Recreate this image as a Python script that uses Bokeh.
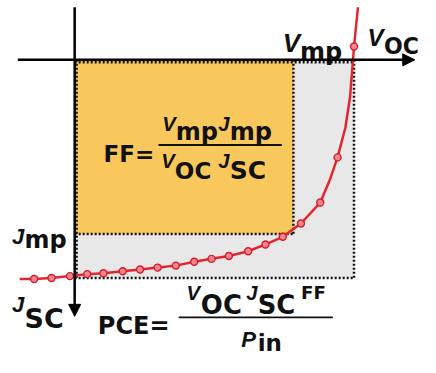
from bokeh.plotting import figure
from bokeh.models import Range1d, Arrow, NormalHead
from bokeh.core.properties import value
from bokeh.embed import file_html
from bokeh.resources import INLINE

# ---- data (normalised J-V characteristic) ----
VOC = 1.0      # open-circuit voltage
JSC = 1.0      # short-circuit current density
VMP = 0.783    # voltage at maximum power point
JMP = 0.798    # current density at maximum power point

curve_v = [-0.197, -0.145, -0.083, -0.017, 0.045, 0.103, 0.172, 0.234, 0.297, 0.362,
           0.428, 0.490, 0.552, 0.621, 0.683, 0.745, 0.810, 0.879, 0.914, 0.941,
           0.969, 0.986, 1.000, 1.014]
curve_j = [-1.004, -1.004, -1.000, -0.991, -0.982, -0.978, -0.969, -0.961, -0.952, -0.943,
           -0.925, -0.912, -0.899, -0.877, -0.846, -0.811, -0.750, -0.654, -0.548, -0.447,
           -0.311, -0.167, 0.061, 0.241]

marker_v = [-0.145, -0.083, -0.017, 0.045, 0.103, 0.172, 0.234, 0.297, 0.362, 0.428,
            0.490, 0.552, 0.621, 0.683, 0.745, 0.810, 0.879, 0.941, 1.000]
marker_j = [-1.004, -1.000, -0.991, -0.982, -0.978, -0.969, -0.961, -0.952, -0.943, -0.925,
            -0.912, -0.899, -0.877, -0.846, -0.811, -0.750, -0.654, -0.447, 0.061]

# ---- layout helpers: reference-image pixel -> data units ----
REF_W, REF_H = 436, 373
X0, Y0, SX, SY = 77, 62, 290, 228
def X(px):
    return (px - X0) / SX
def Y(py):
    return (Y0 - py) / SY

W, H = 420, 357
S = 0.96  # reference-to-figure pixel scale (for font sizes)

p = figure(width=W, height=H,
           x_range=Range1d(X(0), X(REF_W)), y_range=Range1d(Y(REF_H), Y(0)),
           x_axis_type=None, y_axis_type=None,
           output_backend="svg", toolbar_location=None, min_border=0)
p.outline_line_color = None
p.background_fill_color = "white"
p.border_fill_color = "white"

INK = "#111111"
RED = "#e2252f"

# filled areas
p.quad(left=0, right=VOC, top=0, bottom=-JSC, fill_color="#e8e8e8", line_color=None)
p.quad(left=0, right=VMP, top=0, bottom=-JMP, fill_color="#f9c85c", line_color=None)

# dotted borders
top_j = Y(64.5)
left_v = X(79)
p.multi_line(
    xs=[[VOC, VOC], [0, VOC], [VMP, VMP], [0, VMP], [0, VOC], [left_v, left_v]],
    ys=[[0, -JSC], [-JSC, -JSC], [0, -JMP], [-JMP, -JMP], [top_j, top_j], [0, -JSC]],
    line_color=INK, line_width=2.5, line_dash="2 2")

# axes with arrows
p.add_layout(Arrow(end=NormalHead(size=12, fill_color="black", line_color="black"),
                   x_start=X(18), y_start=0, x_end=X(430), y_end=0,
                   line_width=2.5, line_color="black"))
p.add_layout(Arrow(end=NormalHead(size=12, fill_color="black", line_color="black"),
                   x_start=0, y_start=Y(7), x_end=0, y_end=Y(330),
                   line_width=2.5, line_color="black"))

# J-V curve
p.line(curve_v, curve_j, line_color=RED, line_width=2.5)
p.scatter(marker_v, marker_j, size=7, fill_color="#f2858f", line_color="#d41d28", line_width=1.4)

# fraction bars
p.multi_line(xs=[[X(164), X(292)], [X(185), X(345)]], ys=[[Y(151), Y(151)], [Y(331), Y(331)]],
             line_color=INK, line_width=1.8)

# labels: (text, left px, baseline px, size px, italic) -- reference-image pixels
# italic main symbols use an Arial-like face, upright subscripts a wider bold face
labels = [
    ("V", 293, 44, 27, True), ("mp", 311, 54, 25, False),
    ("V", 381, 39, 25, True), ("OC", 398, 48, 23, False),
    ("FF=", 107, 160, 24, False),
    ("V", 168, 129, 21, True), ("mp", 182, 137, 25, False),
    ("J", 226, 129, 21, True), ("mp", 238, 137, 25, False),
    ("V", 167, 168, 21, True), ("OC", 181, 178, 24, False),
    ("J", 226, 168, 21, True), ("SC", 238, 178, 26, False),
    ("J", 12, 247, 23, True), ("mp", 25, 250, 25, False),
    ("J", 12, 318, 23, True), ("SC", 25, 332, 28, False),
    ("PCE=", 101, 340, 25, False),
    ("V", 193, 306, 21, True), ("OC", 208, 318, 27, False),
    ("J", 255, 306, 21, True), ("SC", 267, 318, 27, False),
    ("FF", 312, 305, 19, False),
    ("P", 250, 354, 23, True), ("in", 267, 358, 24, False),
]
for txt, px, py, sz, it in labels:
    p.text(x=[X(px)], y=[Y(py)], text=[txt],
           text_font=value("Liberation Sans" if it else "DejaVu Sans"),
           text_font_size=f"{sz * S:.1f}px", text_font_style="bold italic" if it else "bold",
           text_color=INK, text_align="left", text_baseline="alphabetic")

open("out.html", "w").write(file_html(p, INLINE))
